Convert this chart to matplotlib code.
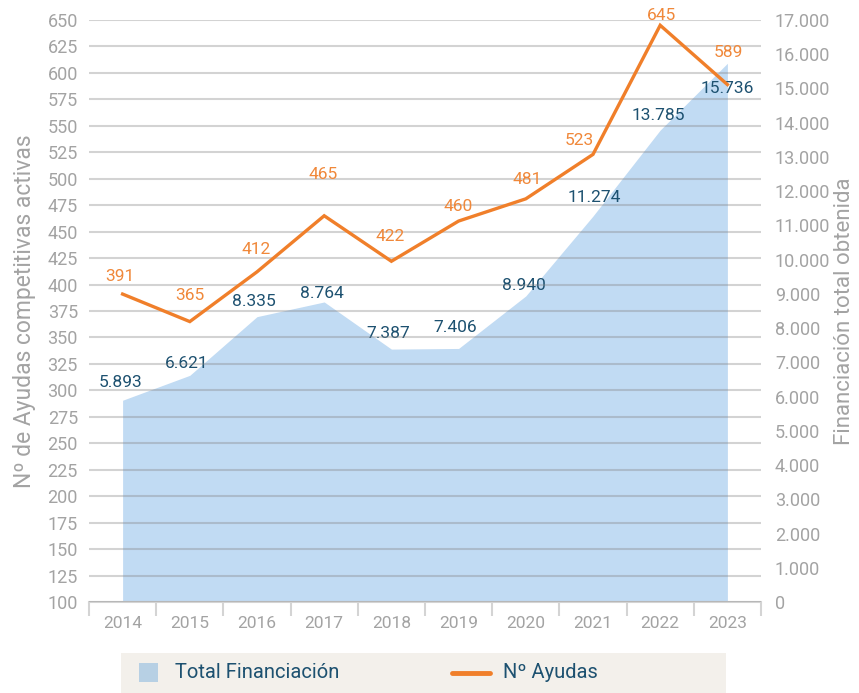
"""Ayudas competitivas activas y financiación total, 2014-2023."""

import matplotlib.pyplot as plt
from matplotlib.lines import Line2D
from matplotlib.patches import Rectangle

years = ["2014", "2015", "2016", "2017", "2018", "2019", "2020", "2021", "2022", "2023"]
n_ayudas = [391, 365, 412, 465, 422, 460, 481, 523, 645, 589]
financiacion = [5893, 6621, 8335, 8764, 7387, 7406, 8940, 11274, 13785, 15736]

left_ticks = list(range(100, 651, 25))
right_ticks = list(range(0, 17001, 1000))

# label offsets in pixels (dx, dy) relative to each point
ayudas_offsets = [(-3, 18), (0, 26), (-1, 22), (-1, 41), (-1, 25),
                  (0, 15), (1, 19), (-14, 14), (1, 10), (1, 32)]
fin_offsets = [(-2, 18), (-3, 12), (-3, 15), (-2, 8), (-3, 16),
               (-3, 21), (-2, 10), (1, 19), (-2, 15), (0, -25)]

ORANGE = "#f07f2a"
ORANGE_TXT = "#f0883a"
NAVY = "#1d5170"
AREA = "#c1dbf3"
GRAY_TXT = "#a3a3a3"
FONT = "Roboto"


def fmt_thousands(v):
    return f"{v:,.0f}".replace(",", ".")


plt.rcParams["font.family"] = [FONT, "DejaVu Sans"]

fig = plt.figure(figsize=(8.59, 6.93), dpi=100)
ax_area = fig.add_axes([89 / 859, 91 / 693, 672 / 859, 582 / 693])
ax_line = ax_area.twinx()

x = list(range(len(years)))

# area (right scale)
ax_area.fill_between(x, financiacion, 0, color=AREA, lw=0, zorder=1)
ax_area.set_ylim(0, 17000)
ax_area.set_xlim(-0.5, len(years) - 0.5)
ax_area.yaxis.tick_right()
ax_area.yaxis.set_label_position("right")
ax_area.set_yticks(right_ticks)
ax_area.set_yticklabels([fmt_thousands(v) for v in right_ticks])
ax_area.tick_params(axis="y", length=0, pad=10, labelsize=13, labelcolor=GRAY_TXT)
ax_area.set_ylabel("Financiación total obtenida", fontsize=16, color=GRAY_TXT,
                   labelpad=3)

ax_area.set_xticks(x)
ax_area.set_xticklabels(years)
ax_area.set_xticks([i - 0.5 for i in range(len(years) + 1)], minor=True)
ax_area.tick_params(axis="x", which="major", length=0, pad=10, labelsize=12.5,
                    labelcolor=GRAY_TXT)
ax_area.tick_params(axis="x", which="minor", length=10, width=1.5, color="#d4d4d4")

for side in ["top", "left", "right"]:
    ax_area.spines[side].set_visible(False)
ax_area.spines["bottom"].set_color("#d4d4d4")
ax_area.spines["bottom"].set_linewidth(1.5)

# line (left scale)
ax_line.plot(x, n_ayudas, color=ORANGE, lw=2.4, zorder=3, solid_joinstyle="miter")
ax_line.set_ylim(100, 650)
ax_line.yaxis.tick_left()
ax_line.yaxis.set_label_position("left")
ax_line.set_yticks(left_ticks)
ax_line.tick_params(axis="y", length=0, pad=8, labelsize=13, labelcolor=GRAY_TXT)
ax_line.set_ylabel("Nº de Ayudas competitivas activas", fontsize=16.5, color=GRAY_TXT,
                   labelpad=8)
ax_line.grid(axis="y", color="#828282", alpha=0.35, lw=1.5)
ax_line.set_axisbelow(True)
for side in ax_line.spines:
    ax_line.spines[side].set_visible(False)

for xi, v, (dx, dy) in zip(x, financiacion, fin_offsets):
    ax_area.annotate(fmt_thousands(v), (xi, v), xytext=(dx, dy),
                     textcoords="offset pixels", ha="center", va="center",
                     fontsize=12.5, color=NAVY, zorder=5)

for xi, v, (dx, dy) in zip(x, n_ayudas, ayudas_offsets):
    ax_line.annotate(str(v), (xi, v), xytext=(dx, dy),
                     textcoords="offset pixels", ha="center", va="center",
                     fontsize=12.5, color=ORANGE_TXT, zorder=5)

# legend box drawn by hand
W, H = 859, 693
fig.add_artist(Rectangle((121 / W, 0), 605 / W, 40 / H, transform=fig.transFigure,
                         facecolor="#f3f0eb", edgecolor="none"))
fig.add_artist(Rectangle((139 / W, 11 / H), 19 / W, 19 / H, transform=fig.transFigure,
                         facecolor="#b7d0e4", edgecolor="none"))
fig.text(175 / W, 20 / H, "Total Financiación", fontsize=14.5, color=NAVY,
         va="center", ha="left")
fig.add_artist(Line2D([452 / W, 490 / W], [20 / H, 20 / H], transform=fig.transFigure,
                      color=ORANGE, lw=3.5, solid_capstyle="round"))
fig.text(503 / W, 20 / H, "Nº Ayudas", fontsize=14.5, color=NAVY,
         va="center", ha="left")

fig.savefig("out.png", dpi=100)
